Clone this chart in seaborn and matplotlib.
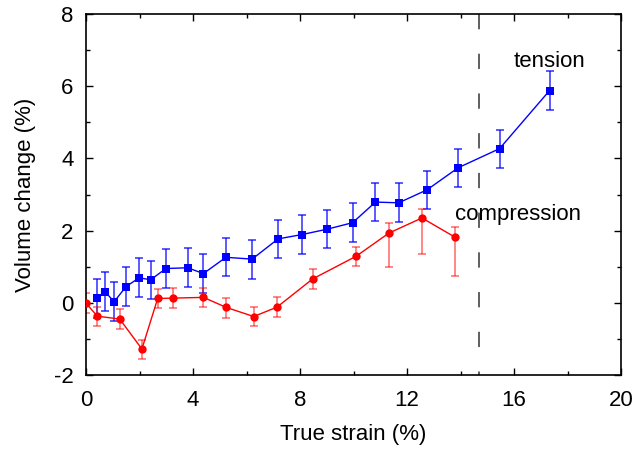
import numpy as np
import pandas as pd
import matplotlib
matplotlib.use("Agg")
import matplotlib.pyplot as plt
import seaborn as sns
from matplotlib.ticker import MultipleLocator

# Tension data
ten_x = [0.40, 0.71, 1.05, 1.50, 1.98, 2.42, 2.99, 3.80, 4.39, 5.23, 6.21, 7.18, 8.07,
         9.02, 9.97, 10.82, 11.69, 12.75, 13.91, 15.46, 17.33]
ten_y = [0.12, 0.31, 0.03, 0.45, 0.69, 0.64, 0.95, 0.97, 0.81, 1.26, 1.21, 1.77, 1.89,
         2.04, 2.22, 2.79, 2.77, 3.13, 3.74, 4.27, 5.88]
ten_err = [0.55, 0.54, 0.54, 0.53, 0.54, 0.53, 0.54, 0.54, 0.54, 0.53, 0.54, 0.53, 0.53,
           0.53, 0.54, 0.53, 0.54, 0.53, 0.53, 0.53, 0.53]

# Compression data
com_x = [0.0, 0.42, 1.26, 2.09, 2.68, 3.25, 4.39, 5.25, 6.27, 7.14, 8.47, 10.10, 11.32, 12.56, 13.79]
com_y = [-0.01, -0.37, -0.45, -1.28, 0.12, 0.13, 0.15, -0.13, -0.38, -0.12, 0.66, 1.29, 1.93, 2.35, 1.82]
com_err_lo = [0.27, 0.26, 0.27, 0.28, 0.26, 0.27, 0.27, 0.28, 0.27, 0.26, 0.27, 0.27, 0.93, 1.01, 1.07]
com_err_hi = [0.27, 0.26, 0.27, 0.26, 0.26, 0.27, 0.26, 0.26, 0.26, 0.27, 0.27, 0.26, 0.27, 0.26, 0.27]

divider_x = 14.7
xlabel = "True strain (%)"
ylabel = "Volume change (%)"

sns.set_theme(style="ticks")
plt.rcParams['font.family'] = ['Liberation Sans', 'DejaVu Sans']
plt.rcParams['axes.unicode_minus'] = False
plt.rcParams['text.color'] = 'black'
plt.rcParams['axes.labelcolor'] = 'black'

df = pd.DataFrame({
    "x": ten_x + com_x,
    "y": ten_y + com_y,
    "series": ["tension"] * len(ten_x) + ["compression"] * len(com_x),
})

fig = plt.figure(figsize=(6.37, 4.49), dpi=100)
ax = fig.add_axes([86/637, 1-375/449, (621-86)/637, (375-14)/449])

colors = {"tension": "#0000ff", "compression": "#ff0000"}

ax.errorbar(ten_x, ten_y, yerr=ten_err, fmt="none", ecolor="#0000ff", alpha=0.75,
            elinewidth=1.2, capsize=3, capthick=1.2, zorder=2)
ax.errorbar(com_x, com_y, yerr=[com_err_lo, com_err_hi], fmt="none", ecolor="#ff0000",
            alpha=0.55, elinewidth=1.2, capsize=3, capthick=1.2, zorder=2)

sns.lineplot(data=df, x="x", y="y", hue="series", style="series",
             markers={"tension": "s", "compression": "o"}, dashes=False,
             palette=colors, estimator=None, sort=False, legend=False,
             linewidth=1.0, markersize=6, markeredgewidth=0, ax=ax, zorder=3)

ax.plot([divider_x, divider_x], [8, -2], color="#333333", linewidth=1.1,
        linestyle=(0, (10, 16)), zorder=1)

ax.text(17.31, 6.68, "tension", ha="center", va="center", fontsize=16, color="black")
ax.text(16.15, 2.45, "compression", ha="center", va="center", fontsize=16, color="black")

ax.set_xlim(0, 20)
ax.set_ylim(-2, 8)
ax.xaxis.set_major_locator(MultipleLocator(4))
ax.xaxis.set_minor_locator(MultipleLocator(2))
ax.yaxis.set_major_locator(MultipleLocator(2))
ax.yaxis.set_minor_locator(MultipleLocator(1))
ax.tick_params(which="both", direction="in", top=True, right=True, colors="black",
               labelcolor="black", labelsize=16, width=1)
ax.tick_params(which="major", length=5)
ax.tick_params(axis="x", which="major", pad=11)
ax.tick_params(axis="y", which="major", pad=9)
ax.tick_params(which="minor", length=3)
for s in ax.spines.values():
    s.set_visible(True)
    s.set_color("black")
    s.set_linewidth(1.2)

ax.set_xlabel(xlabel, fontsize=16, labelpad=9, color="black")
ax.set_ylabel(ylabel, fontsize=16, labelpad=13, color="black")

fig.savefig("out.png", dpi=100)
